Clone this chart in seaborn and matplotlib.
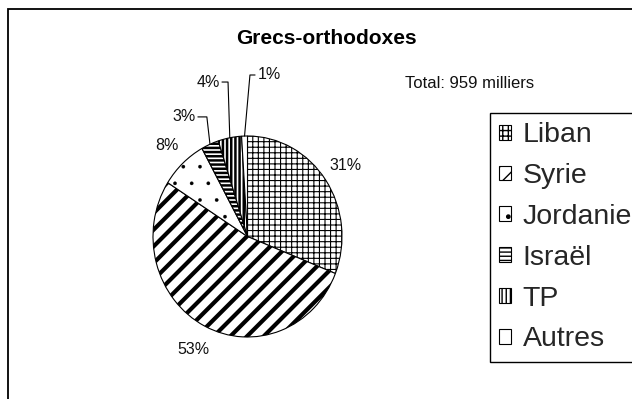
import numpy as np
import matplotlib
matplotlib.use('Agg')
import matplotlib.pyplot as plt
from matplotlib.patches import Rectangle
import seaborn as sns

# data (shares in %)
pays = ['Liban', 'Syrie', 'Jordanie', 'Israël', 'TP', 'Autres']
parts = [31, 53, 8, 3, 4, 1]
hachures = ['+++', '//', '.', '----', '||||', '']
epaisseurs = [0.8, 3.0, 0.2, 1.8, 1.8, 1.0]
titre = 'Grecs-orthodoxes'
total = 'Total: 959 milliers'

sns.set_theme(style='white')
plt.rcParams['font.family'] = ['Liberation Sans', 'DejaVu Sans']

W, H = 632, 399
fig = plt.figure(figsize=(W / 100, H / 100), dpi=100)
fig.patch.set_facecolor('white')

# axes holding the pie (pixel box of the ellipse)
left, right, top, bottom = 153, 342, 136, 337
ax = fig.add_axes([left / W, 1 - bottom / H, (right - left) / W, (bottom - top) / H])

wedges, _ = ax.pie(parts, startangle=90, counterclock=False, radius=1,
                   colors=['white'] * len(parts),
                   wedgeprops=dict(edgecolor='black', linewidth=0.8))
for w, h, lw in zip(wedges, hachures, epaisseurs):
    w.set_hatch(h)
    if hasattr(w, 'set_hatch_linewidth'):
        w.set_hatch_linewidth(lw)
    else:
        w._hatch_linewidth = lw
ax.set_aspect('auto')
ax.set_xlim(-1, 1)
ax.set_ylim(-1, 1)
ax.axis('off')

def mid_angle(w):
    return np.deg2rad((w.theta1 + w.theta2) / 2)

# labels directly beside the big slices
for w, p in zip(wedges[:3], parts[:3]):
    a = mid_angle(w)
    r = 1.26 if p != 8 else 1.24
    ax.text(r * np.cos(a), r * np.sin(a), f'{p}%', ha='center', va='center',
            fontsize=11.5, color='#111111')

# labels with leader lines for the thin slices: (text x, text y, elbow x, align)
leaders = [(-0.545, 1.19, -0.43, 'right'),
           (-0.29, 1.537, -0.206, 'right'),
           (0.11, 1.607, 0.026, 'left')]
for w, p, (tx, ty, ex, ha) in zip(wedges[3:], parts[3:], leaders):
    a = mid_angle(w)
    x0, y0 = np.cos(a), np.sin(a)
    gap = 0.02 if ha == 'right' else -0.03
    ax.plot([x0, ex, tx + gap], [y0, ty, ty], color='black', lw=0.8, clip_on=False)
    ax.text(tx, ty, f'{p}%', ha=ha, va='center', fontsize=11.5, color='#111111')

fig.text(326 / W, 1 - 38 / H, titre, ha='center', va='center',
         fontsize=15, fontweight='bold', color='black')
fig.text(405 / W, 1 - 83 / H, total, ha='left', va='center', fontsize=12, color='#111111')

leg = fig.legend(wedges, pays, loc='upper left', bbox_to_anchor=(490 / W, 1 - 113 / H),
                 fontsize=20.5, frameon=True, fancybox=False, borderaxespad=0,
                 handlelength=0.42, handleheight=0.42, handletextpad=0.4,
                 borderpad=0.33, labelspacing=0.52)
leg.get_frame().set_edgecolor('black')
leg.get_frame().set_linewidth(1.0)
leg.get_frame().set_alpha(1)

# outer chart border (runs off the right and bottom edges)
fig.patches.append(Rectangle((8 / W, -0.1), 1.0, 1.1 - 9 / H, transform=fig.transFigure,
                             fill=False, edgecolor='black', linewidth=1.3))

fig.savefig('out.png', dpi=100)
